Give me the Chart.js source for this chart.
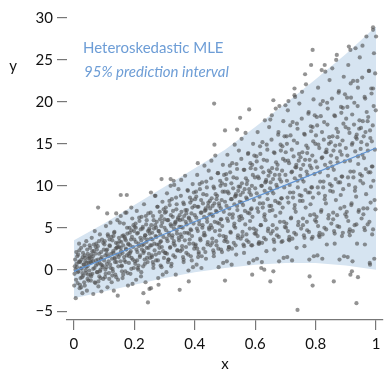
<!DOCTYPE html>
<html>
<head>
<meta charset="utf-8">
<script src="https://cdn.jsdelivr.net/npm/chart.js@4/dist/chart.umd.min.js"></script>
<style>
html,body{margin:0;padding:0;background:#fff;}
#wrap{position:relative;width:387px;height:371px;}
</style>
</head>
<body>
<div id="wrap"><canvas id="c"></canvas></div>
<script>
// ---- data ----
const bandX   = [0, 0.1, 0.2, 0.3, 0.4, 0.5, 0.6, 0.7, 0.8, 0.9, 1.0];
const bandUpper = [3.5, 5.5, 7.7, 9.9, 12.1, 14.3, 17.0, 19.8, 22.7, 25.7, 29.0];
const bandLower = [-3.4, -2.6, -1.8, -1.0, -0.3, 0.2, 0.6, 0.8, 0.8, 0.5, 0.0];
const meanX = [0, 0.25, 0.5, 0.75, 1.0];
const meanY = [-0.2, 3.5, 7.2, 10.8, 14.5];
const xTicks = [0, 0.2, 0.4, 0.6, 0.8, 1];
const yTicks = [-5, 0, 5, 10, 15, 20, 25, 30];
const legendLabels = ["Heteroskedastic MLE", "95% prediction interval"];

// observed points, first pass (wide spread + outliers)
const ptsX = [
0.002,0.004,0.006,0.008,0.010,0.012,0.014,0.015,0.017,0.019,0.021,0.022,0.024,0.026,0.028,0.029,0.031,0.033,0.035,0.036,0.038,0.040,0.041,0.043,0.045,0.046,0.048,0.049,
0.099,0.097,0.095,0.093,0.091,0.089,0.088,0.086,0.084,0.083,0.081,0.079,0.078,0.076,0.074,0.073,0.071,0.069,0.068,0.066,0.064,0.063,0.061,0.059,0.057,0.056,0.054,0.052,0.051,
0.101,0.103,0.104,0.106,0.108,0.110,0.111,0.113,0.115,0.116,0.118,0.120,0.121,0.123,0.125,0.127,0.128,0.130,0.132,0.134,0.135,0.137,0.139,0.141,0.142,0.144,0.146,0.148,0.149,
0.199,0.198,0.196,0.194,0.193,0.191,0.189,0.187,0.186,0.184,0.182,0.180,0.179,0.177,0.175,0.174,0.172,0.170,0.168,0.167,0.165,0.163,0.161,0.160,0.158,0.156,0.155,0.153,0.151,
0.201,0.203,0.205,0.206,0.208,0.210,0.212,0.213,0.215,0.217,0.218,0.220,0.222,0.224,0.225,0.227,0.229,0.231,0.232,0.234,0.236,0.237,0.239,0.241,0.243,0.244,0.246,0.248,0.249,
0.299,0.298,0.296,0.294,0.293,0.291,0.289,0.287,0.286,0.284,0.282,0.281,0.279,0.277,0.275,0.274,0.272,0.270,0.268,0.267,0.265,0.263,0.262,0.260,0.258,0.256,0.255,0.253,0.251,
0.301,0.303,0.305,0.306,0.308,0.310,0.312,0.313,0.315,0.317,0.318,0.320,0.322,0.324,0.325,0.327,0.329,0.331,0.332,0.334,0.336,0.337,0.339,0.341,0.343,0.344,0.346,0.348,0.349,
0.399,0.398,0.396,0.394,0.393,0.391,0.389,0.387,0.386,0.384,0.382,0.381,0.379,0.377,0.375,0.374,0.372,0.370,0.368,0.367,0.365,0.363,0.362,0.360,0.358,0.356,0.355,0.353,0.351,
0.401,0.403,0.405,0.406,0.408,0.410,0.412,0.413,0.415,0.417,0.418,0.420,0.422,0.424,0.425,0.427,0.429,0.431,0.432,0.434,0.436,0.437,0.439,0.441,0.443,0.444,0.446,0.448,0.449,
0.499,0.498,0.496,0.494,0.493,0.491,0.489,0.487,0.486,0.484,0.482,0.481,0.479,0.477,0.475,0.474,0.472,0.470,0.468,0.467,0.465,0.463,0.462,0.460,0.458,0.456,0.455,0.453,0.451,
0.501,0.503,0.505,0.506,0.508,0.510,0.512,0.513,0.515,0.517,0.518,0.520,0.522,0.524,0.525,0.527,0.529,0.531,0.532,0.534,0.536,0.537,0.539,0.541,0.543,0.544,0.546,0.548,0.549,
0.599,0.598,0.596,0.594,0.593,0.591,0.589,0.587,0.586,0.584,0.582,0.581,0.579,0.577,0.575,0.574,0.572,0.570,0.568,0.567,0.565,0.563,0.562,0.560,0.558,0.556,0.555,0.553,0.551,
0.601,0.603,0.605,0.606,0.608,0.610,0.612,0.613,0.615,0.617,0.618,0.620,0.622,0.624,0.625,0.627,0.629,0.631,0.632,0.634,0.636,0.637,0.639,0.641,0.643,0.644,0.646,0.648,0.649,
0.699,0.698,0.696,0.694,0.693,0.691,0.689,0.687,0.686,0.684,0.682,0.681,0.679,0.677,0.675,0.674,0.672,0.670,0.668,0.667,0.665,0.663,0.662,0.660,0.658,0.656,0.655,0.653,0.651,
0.701,0.703,0.705,0.706,0.708,0.710,0.712,0.713,0.715,0.717,0.718,0.720,0.722,0.724,0.725,0.727,0.729,0.731,0.732,0.734,0.736,0.737,0.739,0.741,0.743,0.744,0.746,0.748,0.749,
0.799,0.798,0.796,0.794,0.793,0.791,0.789,0.787,0.786,0.784,0.782,0.781,0.779,0.777,0.775,0.774,0.772,0.770,0.768,0.767,0.765,0.763,0.762,0.760,0.758,0.756,0.755,0.753,0.751,
0.801,0.803,0.805,0.806,0.808,0.810,0.812,0.813,0.815,0.817,0.818,0.820,0.822,0.824,0.825,0.827,0.829,0.831,0.832,0.834,0.836,0.837,0.839,0.841,0.843,0.844,0.846,0.848,0.849,
0.899,0.898,0.896,0.894,0.893,0.891,0.889,0.887,0.886,0.884,0.882,0.881,0.879,0.877,0.875,0.874,0.872,0.870,0.868,0.867,0.865,0.863,0.862,0.860,0.858,0.856,0.855,0.853,0.851,
0.901,0.903,0.905,0.906,0.908,0.910,0.912,0.913,0.915,0.917,0.918,0.920,0.922,0.924,0.925,0.927,0.929,0.931,0.932,0.934,0.936,0.937,0.939,0.941,0.943,0.944,0.946,0.948,0.949,
0.999,0.998,0.996,0.994,0.993,0.991,0.989,0.987,0.986,0.984,0.982,0.981,0.979,0.977,0.975,0.974,0.972,0.970,0.968,0.967,0.965,0.963,0.962,0.960,0.958,0.956,0.955,0.953,0.951,
0.464,0.50,0.465,0.41,0.29,0.32,0.33,0.32,0.155,0.175,0.27,
0.79,0.87,0.91,0.915,0.785,0.83,0.82,0.765,0.73,0.73,0.66,0.71,0.68,0.70,0.58,0.55,0.65,0.54,0.99,0.99,1.0,
0.145,0.23,0.25,0.255,0.245,0.35,0.28,0.38,0.50,0.08,0.11,0.14,0.17,0.19,
0.59,0.62,0.63,0.66,0.65,0.74,0.78,0.79,0.86,0.92,0.915,0.94,0.935,0.98
];
const ptsY = [
-0.5,1.2,-3.4,2.1,0.3,-1.6,1.8,-0.2,3.1,-2.2,0.9,-1.0,2.6,0.1,-2.8,1.5,-0.7,0.6,2.9,-1.9,1.0,-0.4,3.4,-2.5,0.4,1.9,-1.3,0.8,
2.4,-1.1,0.5,3.6,-2.6,1.3,0.0,4.2,-0.8,1.9,-2.0,2.8,0.7,-0.3,3.1,1.1,-1.6,4.6,0.2,2.2,-2.9,1.6,-0.5,3.8,0.9,-1.3,2.6,1.4,-0.1,
3.0,-0.9,1.7,5.2,0.3,2.4,-2.1,4.0,1.0,-0.4,2.9,0.6,5.6,1.9,-1.5,3.5,0.1,2.2,-2.5,4.5,1.3,-0.6,3.2,0.9,2.6,5.9,-1.2,1.5,3.8,
4.6,0.2,2.7,-1.7,6.1,1.4,3.6,-0.5,2.0,5.0,0.8,3.1,-1.9,4.3,1.7,6.8,2.5,-0.2,3.9,1.1,5.5,2.9,-1.0,4.0,0.5,2.2,6.4,1.8,3.4,
5.1,0.7,3.3,-1.2,7.0,2.1,4.4,0.0,2.8,5.8,1.5,3.8,-0.8,6.3,2.4,4.9,0.4,3.0,7.8,1.2,4.1,-1.5,5.4,2.6,3.6,0.9,6.7,1.9,4.7,
6.0,1.4,3.9,-0.6,8.1,2.7,5.2,0.5,3.3,6.9,2.0,4.6,-1.0,7.5,3.0,5.7,1.1,4.0,8.8,2.3,4.9,0.2,6.4,3.6,1.7,5.3,9.2,2.9,4.3,
6.8,2.0,4.7,-0.3,9.1,3.4,5.9,1.2,4.1,7.7,2.6,5.4,0.4,8.4,3.8,6.3,1.7,4.9,10.1,2.9,5.6,-0.6,7.2,4.3,2.3,6.0,9.6,3.5,5.1,
7.6,2.5,5.5,0.3,10.2,4.0,6.7,1.6,4.8,8.6,3.1,6.1,-0.1,9.4,4.4,7.1,2.0,5.7,11.2,3.5,6.4,0.9,8.0,5.0,2.8,6.9,10.7,4.2,5.9,
8.4,3.0,6.2,0.6,11.3,4.6,7.5,2.1,5.4,9.6,3.7,6.8,0.2,10.4,5.0,7.9,2.5,6.3,12.4,4.1,7.1,1.3,8.9,5.7,3.3,7.6,11.8,4.8,6.6,
9.3,3.4,6.9,0.8,12.5,5.2,8.3,2.4,6.0,10.6,4.1,7.6,0.3,11.5,5.6,8.8,2.9,7.0,13.6,4.6,7.9,1.6,9.9,6.4,3.7,8.5,13.0,5.3,7.3,
10.1,3.9,7.6,1.0,13.7,5.8,9.1,2.7,6.6,11.6,4.5,8.4,0.6,12.7,6.2,9.7,3.2,7.8,14.9,5.0,8.8,1.8,10.9,7.1,4.1,9.4,14.2,5.9,8.1,
11.0,4.3,8.3,1.1,15.0,6.3,10.0,2.9,7.2,12.7,4.9,9.2,0.8,13.9,6.8,10.6,3.5,8.6,16.3,5.4,9.6,2.0,11.9,7.7,4.5,10.3,15.6,6.4,8.9,
12.0,4.7,9.1,1.3,16.4,6.9,10.9,3.1,7.9,13.8,5.3,10.0,0.9,15.2,7.4,11.6,3.8,9.4,17.8,5.9,10.5,2.2,13.0,8.4,4.9,11.2,17.0,7.0,9.7,
13.0,5.1,9.8,1.4,17.7,7.4,11.8,3.3,8.5,14.9,5.7,10.8,1.0,16.4,8.0,12.5,4.1,10.1,19.2,6.4,11.3,2.4,14.0,9.1,5.3,12.1,18.4,7.6,10.4,
14.0,5.5,10.6,1.5,19.0,8.0,12.7,3.5,9.2,16.0,6.1,11.6,1.1,17.6,8.6,13.5,4.4,10.9,20.6,6.9,12.2,2.6,15.1,9.8,5.7,13.0,19.8,8.2,11.2,
15.0,5.9,11.4,1.6,20.3,8.6,13.6,3.7,9.8,17.1,6.5,12.4,1.2,18.8,9.2,14.5,4.7,11.7,22.1,7.4,13.1,2.8,16.2,10.5,6.1,14.0,21.2,8.8,12.0,
16.0,6.3,12.2,1.7,21.7,9.1,14.5,3.9,10.5,18.3,6.9,13.3,1.3,20.1,9.8,15.5,5.0,12.5,23.6,7.9,14.0,3.0,17.3,11.2,6.5,15.0,22.6,9.4,12.8,
17.0,6.6,12.9,1.6,23.0,9.6,15.4,4.0,11.1,19.4,7.3,14.1,1.2,21.3,10.4,16.4,5.2,13.3,25.0,8.3,14.8,3.1,18.4,11.9,6.8,15.9,24.0,10.0,13.6,
18.0,6.9,13.6,1.5,24.4,10.1,16.3,4.1,11.7,20.5,7.7,14.9,1.0,22.5,11.0,17.3,5.3,14.1,26.4,8.7,15.6,3.1,19.5,12.6,7.1,16.8,25.3,10.6,14.4,
19.0,7.2,14.3,1.3,25.8,10.6,17.2,4.2,12.3,21.6,8.0,15.7,0.8,23.7,11.6,18.2,5.4,14.9,27.8,9.0,16.4,3.0,20.6,13.3,7.3,17.7,26.7,11.2,15.2,
19.8,16.6,14.9,12.7,10.8,10.8,10.6,10.0,8.9,8.9,8.8,
26.2,25.6,26.6,26.2,24.4,24.4,23.8,23.3,21.6,20.8,20.2,20.1,19.5,19.6,19.1,18.1,17.9,16.7,28.9,28.6,27.8,
-3.1,-2.8,-2.3,-2.2,-3.9,-2.4,-1.8,-1.4,-1.3,7.4,6.7,6.7,6.8,7.4,
-0.6,0.2,0.0,-0.2,-1.4,-4.8,-0.8,-1.9,-1.4,-0.2,-0.6,-0.9,-4.0,0.6
];

// observed points, second pass (the dense core near the fitted line)
const pts2X = [
0.003,0.007,0.011,0.013,0.016,0.018,0.020,0.023,0.025,0.027,0.030,0.032,0.034,0.037,0.039,0.042,0.044,0.047,0.001,0.009,0.019,0.028,0.036,0.045,0.005,0.024,0.040,0.048,
0.086,0.058,0.090,0.081,0.072,0.063,0.055,0.097,0.095,0.092,0.090,0.088,0.085,0.083,0.080,0.078,0.076,0.073,0.071,0.069,0.066,0.064,0.061,0.059,0.057,0.054,0.052,0.050,
0.100,0.102,0.105,0.107,0.109,0.112,0.114,0.117,0.119,0.122,0.124,0.126,0.129,0.131,0.133,0.136,0.138,0.140,0.143,0.145,0.147,0.109,0.118,0.127,0.135,0.144,0.104,0.131,
0.186,0.158,0.190,0.181,0.172,0.163,0.155,0.197,0.195,0.192,0.190,0.188,0.185,0.183,0.180,0.178,0.176,0.173,0.171,0.169,0.166,0.164,0.161,0.159,0.157,0.154,0.152,0.150,
0.200,0.202,0.204,0.207,0.209,0.211,0.214,0.216,0.219,0.221,0.223,0.226,0.228,0.230,0.233,0.235,0.238,0.240,0.242,0.245,0.247,0.205,0.214,0.223,0.232,0.241,0.209,0.236,
0.286,0.258,0.290,0.281,0.272,0.263,0.255,0.297,0.295,0.292,0.290,0.288,0.285,0.283,0.280,0.278,0.276,0.273,0.271,0.269,0.266,0.264,0.261,0.259,0.257,0.254,0.252,0.250,
0.300,0.302,0.304,0.307,0.309,0.311,0.314,0.316,0.319,0.321,0.323,0.326,0.328,0.330,0.333,0.335,0.338,0.340,0.342,0.345,0.347,0.305,0.313,0.322,0.331,0.340,0.308,0.336,
0.386,0.358,0.390,0.381,0.372,0.363,0.355,0.397,0.395,0.392,0.390,0.388,0.385,0.383,0.380,0.378,0.376,0.373,0.371,0.369,0.366,0.364,0.361,0.359,0.357,0.354,0.352,0.350,
0.400,0.402,0.404,0.407,0.409,0.411,0.414,0.416,0.419,0.421,0.423,0.426,0.428,0.430,0.433,0.435,0.438,0.440,0.442,0.445,0.447,0.405,0.413,0.422,0.431,0.440,0.408,0.436,
0.486,0.458,0.490,0.481,0.472,0.463,0.455,0.497,0.495,0.492,0.490,0.488,0.485,0.483,0.480,0.478,0.476,0.473,0.471,0.469,0.466,0.464,0.461,0.459,0.457,0.454,0.452,0.450,
0.500,0.502,0.504,0.507,0.509,0.511,0.514,0.516,0.519,0.521,0.523,0.526,0.528,0.530,0.533,0.535,0.538,0.540,0.542,0.545,0.547,0.505,0.513,0.522,0.531,0.540,0.508,0.536,
0.586,0.558,0.590,0.581,0.572,0.563,0.555,0.597,0.595,0.592,0.590,0.588,0.585,0.583,0.580,0.578,0.576,0.573,0.571,0.569,0.566,0.564,0.561,0.559,0.557,0.554,0.552,0.550,
0.600,0.602,0.604,0.607,0.609,0.611,0.614,0.616,0.619,0.621,0.623,0.626,0.628,0.630,0.633,0.635,0.638,0.640,0.642,0.645,0.647,0.605,0.613,0.622,0.631,0.640,0.608,0.636,
0.686,0.658,0.690,0.681,0.672,0.663,0.655,0.697,0.695,0.692,0.690,0.688,0.685,0.683,0.680,0.678,0.676,0.673,0.671,0.669,0.666,0.664,0.661,0.659,0.657,0.654,0.652,0.650,
0.700,0.702,0.704,0.707,0.709,0.711,0.714,0.716,0.719,0.721,0.723,0.726,0.728,0.730,0.733,0.735,0.738,0.740,0.742,0.745,0.747,0.705,0.713,0.722,0.731,0.740,0.708,0.736,
0.786,0.758,0.790,0.781,0.772,0.763,0.755,0.797,0.795,0.792,0.790,0.788,0.785,0.783,0.780,0.778,0.776,0.773,0.771,0.769,0.766,0.764,0.761,0.759,0.757,0.754,0.752,0.750,
0.800,0.802,0.804,0.807,0.809,0.811,0.814,0.816,0.819,0.821,0.823,0.826,0.828,0.830,0.833,0.835,0.838,0.840,0.842,0.845,0.847,0.805,0.813,0.822,0.831,0.840,0.808,0.836,
0.886,0.858,0.890,0.881,0.872,0.863,0.855,0.897,0.895,0.892,0.890,0.888,0.885,0.883,0.880,0.878,0.876,0.873,0.871,0.869,0.866,0.864,0.861,0.859,0.857,0.854,0.852,0.850,
0.900,0.902,0.904,0.907,0.909,0.911,0.914,0.916,0.919,0.921,0.923,0.926,0.928,0.930,0.933,0.935,0.938,0.940,0.942,0.945,0.947,0.905,0.913,0.922,0.931,0.940,0.908,0.936,
0.986,0.958,0.990,0.981,0.972,0.963,0.955,0.997,0.995,0.992,0.990,0.988,0.985,0.983,0.980,0.978,0.976,0.973,0.971,0.969,0.966,0.964,0.961,0.959,0.957,0.954,0.952,0.950
];
const pts2Y = [
0.4,-1.2,1.6,-0.3,0.9,2.3,-1.8,0.2,1.2,-0.9,2.0,0.6,-1.5,1.4,-0.1,0.8,2.4,-0.6,-1.9,0.7,1.0,-0.4,1.7,-1.1,0.0,-2.1,0.3,1.3,
-0.2,1.8,0.6,-1.4,2.7,1.0,-0.6,3.2,0.3,1.5,2.1,-1.0,0.8,3.4,1.2,-0.3,2.4,0.5,1.9,-1.5,3.0,0.1,2.2,1.3,-0.8,0.9,2.9,1.6,
1.1,3.4,-0.5,2.3,0.7,4.2,1.6,-1.1,2.8,0.2,3.9,1.3,-0.2,2.0,4.4,0.9,2.5,-0.9,1.8,3.1,0.4,1.9,3.6,-0.7,1.4,2.7,0.0,4.0,
2.9,0.4,4.7,1.9,3.5,-0.6,2.6,5.3,1.2,3.9,0.1,2.2,4.4,1.6,3.0,-0.4,5.0,2.4,0.9,3.7,1.5,4.1,2.0,-0.2,3.3,1.0,5.6,2.7,
3.6,1.0,5.5,2.4,4.3,0.2,3.1,6.2,1.7,4.8,-0.3,2.9,5.1,2.0,3.8,0.7,6.4,3.3,1.4,4.6,2.6,5.0,0.5,3.5,2.2,5.9,1.1,4.1,
4.2,1.5,6.4,3.0,5.0,0.6,3.7,7.2,2.2,5.6,0.3,3.4,6.0,2.6,4.6,1.1,7.5,3.9,1.8,5.3,3.1,5.9,0.9,4.4,2.9,6.8,1.4,4.9,
5.0,2.0,7.4,3.7,5.9,0.9,4.4,8.2,2.7,6.5,0.7,4.1,7.0,3.1,5.4,1.5,8.6,4.7,2.3,6.2,3.8,6.9,1.2,5.2,3.4,7.8,1.9,5.7,
5.8,2.4,8.3,4.3,6.7,1.2,5.1,9.2,3.1,7.4,1.1,4.7,8.0,3.6,6.2,1.8,9.5,5.4,2.7,7.1,4.4,7.8,1.5,6.0,3.9,8.8,2.2,6.5,
6.5,2.8,9.3,4.9,7.5,1.5,5.8,10.2,3.5,8.3,1.6,5.3,9.0,4.1,7.0,2.1,10.5,6.1,3.0,8.0,5.0,8.7,1.9,6.8,4.4,9.8,2.5,7.3,
7.3,3.2,10.3,5.5,8.4,2.0,6.6,11.3,4.0,9.3,2.1,6.0,10.0,4.7,7.9,2.5,11.5,6.9,3.4,9.0,5.7,9.7,2.3,7.6,5.0,10.9,2.9,8.2,
8.1,3.6,11.4,6.1,9.3,2.4,7.3,12.4,4.4,10.3,2.5,6.6,11.0,5.2,8.7,2.9,12.6,7.6,3.8,9.9,6.3,10.8,2.7,8.4,5.5,12.0,3.3,9.0,
8.9,4.0,12.5,6.7,10.2,2.8,8.0,13.6,4.9,11.3,2.9,7.3,12.1,5.8,9.6,3.3,13.8,8.4,4.2,10.9,7.0,11.9,3.0,9.2,6.1,13.2,3.7,9.9,
9.7,4.3,13.5,7.3,11.1,3.1,8.7,14.7,5.3,12.2,3.2,7.9,13.1,6.3,10.4,3.6,14.9,9.1,4.6,11.8,7.6,12.9,3.3,10.0,6.6,14.3,4.0,10.7,
10.5,4.6,14.7,7.9,12.0,3.3,9.4,15.9,5.7,13.2,3.4,8.5,14.2,6.8,11.3,3.9,16.1,9.8,4.9,12.8,8.2,13.9,3.6,10.8,7.1,15.5,4.3,11.6,
11.3,5.0,15.9,8.6,13.0,3.6,10.1,17.2,6.2,14.3,3.7,9.2,15.4,7.3,12.2,4.2,17.4,10.6,5.3,13.8,8.9,15.0,3.9,11.7,7.7,16.8,4.6,12.5,
12.1,5.3,17.0,9.2,13.9,3.8,10.8,18.4,6.6,15.3,3.9,9.8,16.5,7.8,13.1,4.5,18.6,11.3,5.7,14.8,9.5,16.1,4.1,12.5,8.2,18.0,4.9,13.4,
12.9,5.7,18.2,9.8,14.9,4.1,11.6,19.7,7.1,16.4,4.2,10.5,17.6,8.4,14.0,4.8,19.9,12.1,6.1,15.8,10.2,17.2,4.4,13.4,8.8,19.2,5.2,14.3,
13.7,6.0,19.3,10.4,15.8,4.3,12.3,20.9,7.5,17.4,4.4,11.1,18.7,8.9,14.9,5.1,21.1,12.8,6.5,16.8,10.8,18.3,4.6,14.2,9.3,20.4,5.5,15.2,
14.5,6.3,20.5,11.0,16.8,4.5,13.0,22.2,7.9,18.5,4.6,11.7,19.9,9.4,15.8,5.4,22.5,13.5,6.9,17.8,11.4,19.4,4.8,15.1,9.8,21.7,5.8,16.1,
15.3,6.6,21.6,11.6,17.7,4.7,13.7,23.4,8.3,19.5,4.8,12.3,21.0,9.9,16.6,5.7,23.7,14.2,7.3,18.8,12.0,20.4,5.0,15.9,10.3,22.9,6.1,16.9
];

const FONT = "Lato, 'Open Sans', sans-serif";
const pts = ptsX.map((x, i) => ({x: x, y: ptsY[i]}))
  .concat(pts2X.map((x, i) => ({x: x, y: pts2Y[i]})));
const upper = bandX.map((x, i) => ({x: x, y: bandUpper[i]}));
const lower = bandX.map((x, i) => ({x: x, y: bandLower[i]}));
const mean = meanX.map((x, i) => ({x: x, y: meanY[i]}));

const textPlugin = {
  id: 'texts',
  afterDraw(chart) {
    const ctx = chart.ctx;
    ctx.save();
    ctx.fillStyle = '#111';
    ctx.font = "15px " + FONT;
    ctx.textAlign = 'center';
    ctx.textBaseline = 'middle';
    ctx.fillText('y', 13, 66);
    ctx.fillText('x', (chart.scales.x.getPixelForValue(0) + chart.scales.x.getPixelForValue(1)) / 2, 364);
    ctx.textAlign = 'left';
    ctx.fillStyle = '#6d9dd6';
    ctx.font = "15px " + FONT;
    ctx.fillText(legendLabels[0], 83, 48);
    ctx.font = "italic 15px " + FONT;
    ctx.fillText(legendLabels[1], 84, 72);
    ctx.restore();
  }
};

new Chart(document.getElementById('c'), {
  type: 'scatter',
  data: {
    datasets: [
      {label: 'mean', data: mean, showLine: true, borderColor: '#5f93d3', borderWidth: 1.2,
       pointRadius: 0, fill: false, order: 0},
      {label: 'data', data: pts, backgroundColor: 'rgba(80,80,80,0.62)', borderWidth: 0,
       pointRadius: 2.1, order: 1},
      {label: 'upper', data: upper, showLine: true, borderWidth: 0, borderColor: 'rgba(0,0,0,0)',
       pointRadius: 0, fill: '+1', backgroundColor: 'rgb(214,228,241)', order: 2},
      {label: 'lower', data: lower, showLine: true, borderWidth: 0, borderColor: 'rgba(0,0,0,0)',
       pointRadius: 0, fill: false, order: 3}
    ]
  },
  options: {
    responsive: true,
    maintainAspectRatio: false,
    animation: false,
    events: [],
    layout: {padding: {top: 10, right: 0, left: 0, bottom: 0}},
    plugins: {legend: {display: false}, tooltip: {enabled: false}},
    scales: {
      x: {
        type: 'linear', min: -0.0229, max: 1.0229,
        afterBuildTicks: (s) => { s.ticks = xTicks.map(v => ({value: v})); },
        afterFit: (s) => { s.height = 51; },
        ticks: {color: '#111', font: {family: FONT, size: 15}, padding: 5, maxRotation: 0,
                callback: (v) => String(v)},
        grid: {drawOnChartArea: false, drawTicks: true, tickLength: 10, color: '#777', lineWidth: 1.2},
        border: {display: true, color: '#777', width: 1.2}
      },
      y: {
        type: 'linear', min: -6, max: 30.6,
        afterBuildTicks: (s) => { s.ticks = yTicks.map(v => ({value: v})); },
        afterFit: (s) => { s.width = 67; },
        ticks: {color: '#111', font: {family: FONT, size: 15}, padding: 4,
                callback: (v) => (v < 0 ? '\u2212' + Math.abs(v) : String(v))},
        grid: {drawOnChartArea: false, drawTicks: true, tickLength: 10, color: '#777', lineWidth: 1.2},
        border: {display: false}
      }
    }
  },
  plugins: [textPlugin]
});
</script>
</body>
</html>
